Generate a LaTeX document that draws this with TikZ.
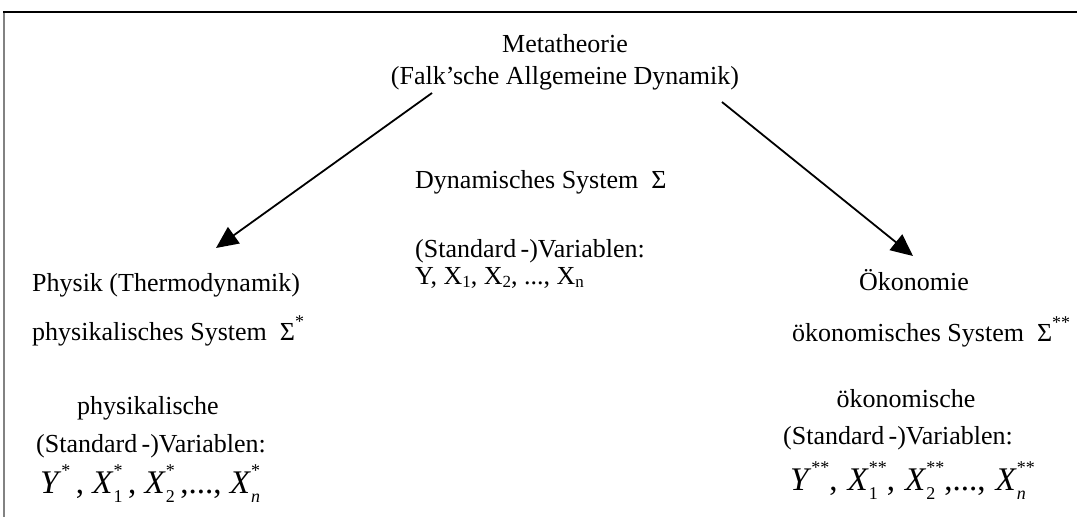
\documentclass[tikz,border=0pt]{standalone}
\usepackage{fontspec}
\setmainfont{Liberation Serif}
\usetikzlibrary{arrows.meta}
\newcommand\hiS[1]{\raisebox{0.5em}{\fontsize{18}{18}\selectfont #1}}
\newcommand\loS[1]{\raisebox{-0.3em}{\fontsize{18}{18}\selectfont #1}}
\newcommand\loU[1]{\raisebox{-0.12em}{\fontsize{17}{17}\selectfont #1}}
\newcommand\sS[2]{\setbox0=\hbox{\hiS{#1}}\setbox2=\hbox{\loS{#2}}\ifdim\wd0>\wd2 \rlap{\box2}\box0\else\rlap{\box0}\box2\fi}
\begin{document}
\begin{tikzpicture}[x=1pt,y=-1pt,
  txt/.style={inner sep=0pt,font=\fontsize{26}{30}\selectfont},
  mth/.style={inner sep=0pt,font=\fontsize{33}{36}\selectfont},
  conn/.style={line width=1.8pt,-{Triangle[length=22pt,width=20pt]}}]
\useasboundingbox (0,0) rectangle (1077,517);
\draw[gray!60!black!70, line width=1.5pt] (4,517) -- (4,12);
\draw[line width=1.5pt] (3.25,12) -- (1077,12);
% top
\node[txt,anchor=base] (meta1) at (565,52) {Metatheorie};
\node[txt,anchor=base] (meta2) at (565,84) {(Falk’sche Allgemeine Dynamik)};
% center
\node[txt,anchor=base west] (dyn) at (415,188) {Dynamisches System\ \ Σ};
\node[txt,anchor=base west] (stdvar) at (415,257) {(Standard\,-)Variablen:};
\node[txt,anchor=base west] (vars) at (415,284) {Y, X\loU{1}, X\loU{2}, ..., X\loU{n}};
% left
\node[txt,anchor=base west] (phys) at (32,291) {Physik (Thermodynamik)};
\node[txt,anchor=base west] (physsys) at (32,340) {physikalisches System\ \ Σ\hiS{*}};
\node[txt,anchor=base] (physv1) at (148,414) {physikalische};
\node[txt,anchor=base] (physv2) at (151,452) {(Standard\,-)Variablen:};
\node[mth,anchor=base west] (physv3) at (40,493) {\textit{Y}\hiS{*}\,, \textit{X}\sS{*}{1}\,, \textit{X}\sS{*}{2}\,,..., \textit{X}\sS{*}{\itshape n}};
% right
\node[txt,anchor=base] (oek) at (914,290) {Ökonomie};
\node[txt,anchor=base west] (oeksys) at (792,341) {ökonomisches System\ \ Σ\hiS{**}};
\node[txt,anchor=base] (oekv1) at (906,407) {ökonomische};
\node[txt,anchor=base] (oekv2) at (898,444) {(Standard\,-)Variablen:};
\node[mth,anchor=base west] (oekv3) at (790,490) {\textit{Y}\sS{**}{},\hspace{10pt}\textit{X}\sS{**}{1},\hspace{10pt}\textit{X}\sS{**}{2},...,\hspace{10pt}\textit{X}\sS{**}{\itshape n}};
% arrows
\coordinate (lstart) at (432,93);
\coordinate (ltip) at (216,248);
\coordinate (rstart) at (722,102);
\coordinate (rtip) at (913,256);
\draw[conn] (lstart) -- (ltip);
\draw[conn] (rstart) -- (rtip);
\end{tikzpicture}
\end{document}
